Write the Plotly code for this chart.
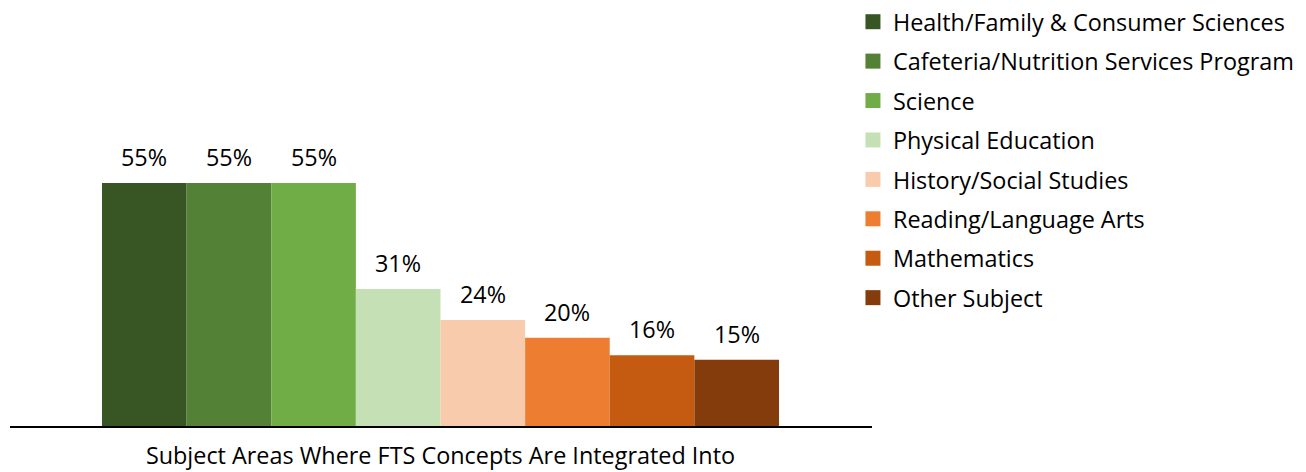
import plotly.graph_objects as go

subjects = [
    "Health/Family & Consumer Sciences",
    "Cafeteria/Nutrition Services Program",
    "Science",
    "Physical Education",
    "History/Social Studies",
    "Reading/Language Arts",
    "Mathematics",
    "Other Subject",
]
percent = [55, 55, 55, 31, 24, 20, 16, 15]
colors = ["#375623", "#538135", "#70AD47", "#C5E0B4",
          "#F8CBAD", "#ED7D31", "#C55A11", "#843C0C"]
axis_label = "Subject Areas Where FTS Concepts Are Integrated Into"

FONT = "Open Sans"
SIZE = 23.4
fig = go.Figure()
for i, (name, val, col) in enumerate(zip(subjects, percent, colors)):
    fig.add_trace(go.Bar(
        x=[i], y=[val], name=name, width=1.0,
        marker=dict(color=col, line=dict(width=0)),
        showlegend=False, hoverinfo="skip",
    ))
    # legend entry with a larger square swatch
    fig.add_trace(go.Scatter(
        x=[None], y=[None], name=name, mode="markers",
        marker=dict(symbol="square", size=15, color=col),
        legendgroup=name, showlegend=True, hoverinfo="skip",
    ))
    fig.add_annotation(
        x=i, y=val, text=f"{val}%", showarrow=False,
        yanchor="middle", yshift=26,
        font=dict(family=FONT, size=SIZE, color="#000000"),
    )

fig.update_layout(
    width=1306, height=472,
    margin=dict(l=10, r=434, t=161, b=46, autoexpand=False),
    paper_bgcolor="white", plot_bgcolor="white",
    barmode="overlay",
    font=dict(family=FONT, size=SIZE, color="#000000"),
    showlegend=True,
    legend=dict(
        xref="container", yref="container",
        x=0.6531, y=1.002, xanchor="left", yanchor="top",
        font=dict(family=FONT, size=SIZE, color="#000000"),
        tracegroupgap=6, maxheight=1.0,
        bgcolor="rgba(0,0,0,0)",
    ),
    xaxis=dict(
        range=[-1.587, 8.599], showgrid=False, zeroline=False,
        showline=True, linecolor="#000000", linewidth=2,
        tickmode="array", tickvals=[3.5], ticktext=[axis_label],
        ticks="", ticklabelstandoff=8, tickfont=dict(family=FONT, size=SIZE),
    ),
    yaxis=dict(range=[0, 60], visible=False),
)

fig.write_html("out.html")
